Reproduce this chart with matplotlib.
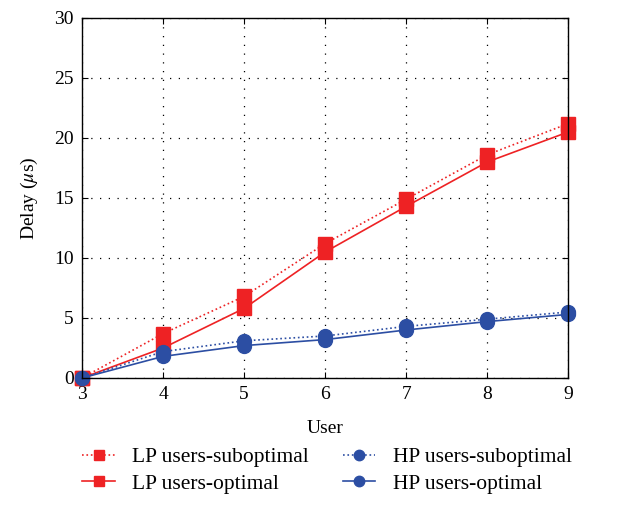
import numpy as np
import matplotlib
matplotlib.use('Agg')
from matplotlib import pyplot as plt

plt.rcParams['font.family'] = ['Liberation Serif', 'DejaVu Serif']
plt.rcParams['mathtext.fontset'] = 'stix'

users = [3, 4, 5, 6, 7, 8, 9]
lp_subopt = [0, 3.7, 6.8, 11.2, 14.9, 18.6, 21.2]
lp_opt = [0, 2.5, 5.8, 10.5, 14.3, 18.0, 20.5]
hp_subopt = [0, 2.2, 3.1, 3.5, 4.3, 4.9, 5.5]
hp_opt = [0, 1.8, 2.7, 3.2, 4.0, 4.7, 5.3]

red = '#ee2224'
blue = '#2c4ea3'

fig = plt.figure(figsize=(6.17, 5.21), dpi=100)
ax = fig.add_axes([0.133, 0.2745, 0.788, 0.691])

l1, = ax.plot(users, lp_subopt, ':', color=red, marker='s', ms=10, lw=1.2,
              label='LP users-suboptimal', clip_on=False)
l2, = ax.plot(users, lp_opt, '-', color=red, marker='s', ms=10, lw=1.2,
              label='LP users-optimal', clip_on=False)
l3, = ax.plot(users, hp_subopt, ':', color=blue, marker='o', ms=10, lw=1.2,
              label='HP users-suboptimal', clip_on=False)
l4, = ax.plot(users, hp_opt, '-', color=blue, marker='o', ms=10, lw=1.2,
              label='HP users-optimal', clip_on=False)

ax.set_xlim(3, 9)
ax.set_ylim(0, 30)
ax.set_xticks(users)
ax.set_yticks(np.arange(0, 31, 5))
ax.grid(True, color='black', linestyle=(0, (1, 6)), linewidth=0.9)
ax.tick_params(direction='in', top=True, right=True, labelsize=14, length=4, pad=6)
for s in ax.spines.values():
    s.set_linewidth(1.0)
ax.set_xlabel('User', fontsize=14, labelpad=12)
ax.set_ylabel(r'Delay ($\mu$s)', fontsize=14, labelpad=10)

fig.legend(handles=[l1, l2, l3, l4], loc='lower center', ncol=2, frameon=False,
           fontsize=15.5, bbox_to_anchor=(0.53, 0.015), columnspacing=1.6,
           handlelength=1.5, handletextpad=0.8, labelspacing=0.3,
           markerscale=0.75)

fig.savefig('out.png', dpi=100)
